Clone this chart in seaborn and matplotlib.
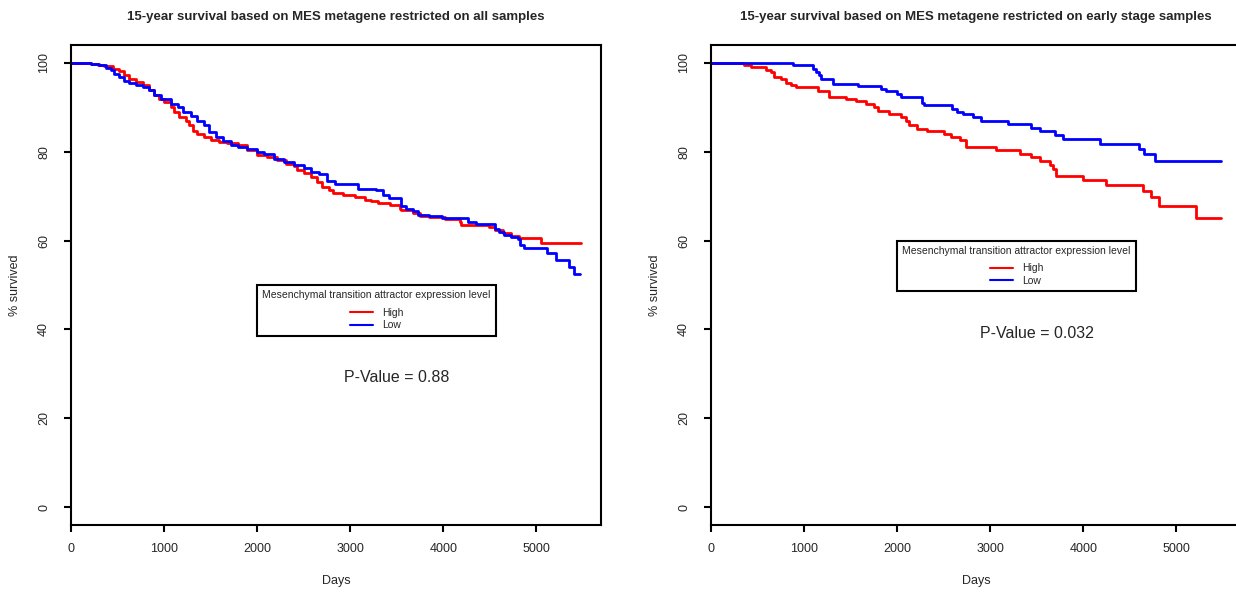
import matplotlib
matplotlib.use("Agg")
import matplotlib.pyplot as plt
from matplotlib.lines import Line2D
import pandas as pd
import seaborn as sns

# Kaplan-Meier step points (days, % survived)
all_high_days = [0, 214, 286, 358, 447, 519, 572, 626, 697, 769, 840, 894, 948, 1001, 1073, 1109, 1162,
                 1234, 1270, 1306, 1359, 1431, 1502, 1592, 1681, 1789, 1896, 2003, 2110, 2218, 2307, 2397,
                 2432, 2504, 2575, 2647, 2700, 2772, 2815, 2918, 3047, 3155, 3226, 3294, 3423, 3530, 3545,
                 3670, 3745, 3850, 4013, 4174, 4192, 4496, 4550, 4640, 4728, 4818, 5050, 5475]
all_high_surv = [100, 99.8, 99.6, 99.2, 98.7, 98.1, 97.2, 96.4, 95.7, 94.9, 93.8, 92.7, 91.8, 91.2, 90.0,
                 88.9, 87.8, 87.0, 85.9, 84.6, 83.9, 83.3, 82.6, 82.2, 82.0, 81.4, 80.3, 79.2, 78.8, 78.2,
                 77.3, 76.7, 75.8, 75.1, 74.3, 73.2, 72.1, 71.3, 70.6, 70.2, 69.8, 69.2, 68.9, 68.5, 67.9,
                 67.2, 66.8, 66.1, 65.6, 65.4, 64.8, 64.2, 63.6, 63.1, 62.3, 61.6, 61.0, 60.6, 59.5, 59.5]

all_low_days = [0, 143, 214, 304, 376, 429, 465, 519, 572, 626, 697, 769, 840, 894, 966, 1073, 1145, 1198,
                1288, 1359, 1431, 1484, 1556, 1628, 1717, 1789, 1896, 2003, 2075, 2182, 2289, 2397, 2504,
                2575, 2665, 2754, 2833, 3083, 3280, 3350, 3420, 3548, 3600, 3670, 3725, 3850, 3990, 4260,
                4353, 4550, 4600, 4657, 4728, 4800, 4825, 4871, 5110, 5211, 5347, 5408, 5470]
all_low_surv = [100, 100, 99.8, 99.4, 98.9, 98.3, 97.5, 96.8, 96.0, 95.4, 94.9, 94.5, 93.9, 92.7, 91.9,
                90.8, 90.0, 88.9, 88.1, 87.0, 85.9, 84.4, 83.3, 82.4, 81.6, 81.0, 80.7, 79.9, 79.4, 78.4,
                77.7, 76.9, 76.4, 75.4, 74.9, 73.4, 72.8, 71.7, 71.3, 70.3, 69.6, 67.8, 67.0, 66.6, 65.8,
                65.5, 65.1, 64.2, 63.8, 62.7, 62.0, 61.2, 60.9, 60.4, 59.1, 58.4, 57.1, 55.6, 54.1, 52.4, 52.4]

early_high_days = [0, 358, 429, 590, 644, 680, 751, 805, 858, 912, 1145, 1270, 1449, 1556, 1663, 1753, 1789,
                   1914, 2039, 2093, 2128, 2218, 2325, 2504, 2575, 2672, 2744, 3065, 3316, 3441, 3530, 3645,
                   3674, 3710, 3996, 4246, 4639, 4729, 4818, 5212, 5480]
early_high_surv = [100, 99.6, 99.0, 98.4, 97.9, 96.9, 96.4, 95.4, 94.9, 94.5, 93.6, 92.4, 91.9, 91.4, 90.8,
                   90.0, 89.1, 88.5, 87.8, 87.0, 85.9, 85.2, 84.6, 83.9, 83.2, 82.6, 81.0, 80.3, 79.5, 78.8,
                   78.0, 77.1, 76.2, 74.5, 73.6, 72.6, 71.1, 69.8, 67.8, 65.0, 65.0]

early_low_days = [0, 876, 1091, 1127, 1163, 1180, 1306, 1574, 1824, 1878, 2003, 2039, 2271, 2289, 2593, 2647,
                  2708, 2815, 2905, 3191, 3441, 3530, 3691, 3781, 4174, 4603, 4657, 4765, 5480]
early_low_surv = [100, 99.5, 98.7, 97.9, 97.2, 96.4, 95.3, 94.8, 94.1, 93.6, 93.0, 92.3, 90.9, 90.4, 89.6,
                  88.9, 88.5, 87.8, 86.9, 86.3, 85.3, 84.6, 83.8, 82.9, 81.8, 80.7, 79.4, 77.8, 77.8]

titles = ["15-year survival based on MES metagene restricted on all samples",
          "15-year survival based on MES metagene restricted on early stage samples"]
p_values = ["P-Value = 0.88", "P-Value = 0.032"]
legend_title = "Mesenchymal transition attractor expression level"
groups = ["High", "Low"]
colors = {"High": "#ff0000", "Low": "#0000ff"}


def make_frame(high_days, high_surv, low_days, low_surv):
    hi = pd.DataFrame({"days": high_days, "surv": high_surv, "group": "High"})
    lo = pd.DataFrame({"days": low_days, "surv": low_surv, "group": "Low"})
    return pd.concat([hi, lo], ignore_index=True)


panels = [
    (make_frame(all_high_days, all_high_surv, all_low_days, all_low_surv), (3500, 29.2), (2000, 50)),
    (make_frame(early_high_days, early_high_surv, early_low_days, early_low_surv), (3500, 39.2), (2000, 60)),
]

sns.set_style("white")
plt.rcParams["font.family"] = ["Liberation Sans", "DejaVu Sans"]

fig = plt.figure(figsize=(12.36, 5.94), dpi=100)
lefts = [71 / 1236, 711 / 1236]
W, H = 530 / 1236, 480 / 594
B = 1 - 525 / 594

for i, (df, pv_pos, leg_pos) in enumerate(panels):
    ax = fig.add_axes([lefts[i], B, W, H])
    sns.lineplot(data=df, x="days", y="surv", hue="group", palette=colors, hue_order=groups,
                 drawstyle="steps-post", estimator=None, linewidth=2, legend=False, ax=ax)
    ax.set_xlim(0, 5694)
    ax.set_ylim(-4, 104)
    ax.set_xticks(range(0, 5001, 1000))
    ax.set_yticks(range(0, 101, 20))
    ax.set_yticklabels([str(v) for v in range(0, 101, 20)], rotation=90, va="center")
    for sp in ax.spines.values():
        sp.set_visible(True)
        sp.set_color("black")
        sp.set_linewidth(1.5)
    ax.tick_params(axis="both", direction="out", length=5, width=1.5, color="black",
                   labelsize=9, bottom=True, left=True)
    ax.tick_params(axis="x", pad=8)
    ax.tick_params(axis="y", pad=10)

    ax.set_xlabel("Days", fontsize=9)
    ax.set_ylabel("% survived", fontsize=9)
    ax.xaxis.set_label_coords(0.5, -0.105)
    ax.yaxis.set_label_coords(-0.094, 0.5)

    ax.text(0.5, 1.058, titles[i], transform=ax.transAxes, ha="center", va="center",
            fontsize=9.5, fontweight="bold")
    ax.text(pv_pos[0], pv_pos[1], p_values[i], ha="center", va="center", fontsize=11.5)

    handles = [Line2D([], [], color=colors[g], lw=1.5) for g in groups]
    leg = ax.legend(handles, groups, title=legend_title, loc="upper left",
                    bbox_to_anchor=leg_pos, bbox_transform=ax.transData, borderaxespad=0,
                    fontsize=7.5, title_fontsize=7.5, frameon=True, fancybox=False, framealpha=1,
                    borderpad=0.5, labelspacing=0.25, handlelength=2.2, handletextpad=0.9)
    leg._legend_box.sep = 5.5  # a bit more room under the legend title
    leg.get_frame().set_edgecolor("black")
    leg.get_frame().set_linewidth(1.5)

fig.savefig("out.png", dpi=100)
